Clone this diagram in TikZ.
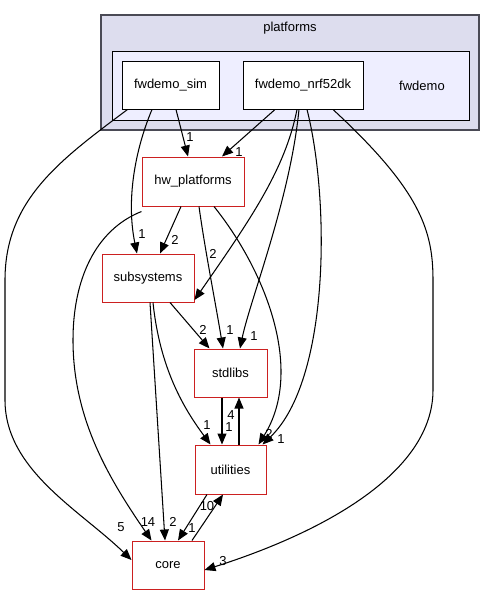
\documentclass[tikz,border=0pt]{standalone}
\usepackage{fontspec}
\setmainfont{Liberation Sans}
\usetikzlibrary{arrows.meta}
\definecolor{outerfill}{HTML}{DDDDEE}
\definecolor{innerfill}{HTML}{EEEEFF}
\definecolor{outerline}{HTML}{4A4A55}
\definecolor{nodered}{HTML}{CC2020}
\tikzset{
  dirbox/.style={draw=nodered, fill=white, line width=1pt, minimum height=48pt, inner sep=0pt, font=\fontsize{13pt}{15pt}\selectfont},
  leafbox/.style={draw=black, fill=white, line width=1pt, minimum height=48pt, inner sep=0pt, font=\fontsize{13pt}{15pt}\selectfont},
  dep/.style={draw=black, line width=1.05pt, -{Triangle[length=11pt,width=9pt]}},
  lbl/.style={inner sep=0pt, font=\fontsize{13pt}{15pt}\selectfont},
}
\begin{document}
\begin{tikzpicture}[x=1pt,y=-1pt]
\useasboundingbox (0,0) rectangle (496,595);
% clusters
\node[draw=outerline, fill=outerfill, line width=1.3pt, minimum width=378pt, minimum height=115pt, inner sep=0pt] (platforms) at (290,72.5) {};
\node[lbl] (platformslbl) at (290,28) {platforms};
\node[draw=black, fill=innerfill, line width=1pt, minimum width=357pt, minimum height=69pt, inner sep=0pt] (fwdemo) at (290.5,85.5) {};
\node[lbl] (fwdemolbl) at (422,86) {fwdemo};
% nodes
\node[leafbox, minimum width=97pt] (sim) at (170.5,85) {fwdemo\_sim};
\node[leafbox, minimum width=120pt] (nrf) at (303,85) {fwdemo\_nrf52dk};
\node[dirbox, minimum width=102pt, minimum height=49pt] (hw) at (193,181.5) {hw\_platforms};
\node[dirbox, minimum width=92pt] (sub) at (148,278) {subsystems};
\node[dirbox, minimum width=73pt] (std) at (230.5,373) {stdlibs};
\node[dirbox, minimum width=71pt, minimum height=49pt] (util) at (230.5,469.5) {utilities};
\node[dirbox, minimum width=72pt] (core) at (168,565) {core};
% labels (drawn before edges)
\node[lbl] (l1) at (121,527) {5};
\node[lbl] (l2) at (148,522) {14};
\node[lbl] (l3) at (173,522) {2};
\node[lbl] (l4) at (192,528) {1};
\node[lbl] (l5) at (207,506) {10};
\node[lbl] (l6) at (223,561) {3};
\node[lbl] (l7) at (207,425) {1};
\node[lbl] (l8) at (229,427) {1};
\node[lbl] (l9) at (231,415) {4};
\node[lbl] (l10) at (269,434) {2};
\node[lbl] (l11) at (281,439) {1};
\node[lbl] (l12) at (203,330) {2};
\node[lbl] (l13) at (230,330) {1};
\node[lbl] (l14) at (254,336) {1};
\node[lbl] (l15) at (175,240) {2};
\node[lbl] (l16) at (142,234) {1};
\node[lbl] (l17) at (213,254) {2};
\node[lbl] (l18) at (190,137) {1};
\node[lbl] (l19) at (239,152) {1};
% edges
\draw[dep] ([xshift=6pt]sim.south west) .. controls (60,160) and (5,200) .. (5,280) -- (5,400) .. controls (5,470) and (80,510) .. ([yshift=5pt]core.west);
\draw[dep] ([xshift=5.5pt]sim.south) -- ([xshift=-5pt]hw.north);
\draw[dep] ([xshift=-18.5pt]sim.south) .. controls (135,150) and (126,200) .. ([xshift=-11pt]sub.north);
\draw[dep] ([xshift=-28pt]nrf.south) -- ([xshift=29pt]hw.north);
\draw[dep] ([xshift=-6pt]nrf.south) .. controls (285,170) and (250,220) .. ([yshift=-22pt]sub.east);
\draw[dep] ([xshift=-4pt]nrf.south) .. controls (290,200) and (250,300) .. ([xshift=9.5pt]std.north);
\draw[dep] ([xshift=4pt]nrf.south) .. controls (330,200) and (330,380) .. ([xshift=-4pt]util.north east);
\draw[dep] ([xshift=30pt]nrf.south) .. controls (420,190) and (433,230) .. (433,280) -- (433,390) .. controls (433,470) and (330,530) .. ([yshift=-5pt]core.east);
\draw[dep] ([xshift=-12pt]hw.south) -- ([xshift=12pt]sub.north);
\draw[dep] ([xshift=6pt]hw.south) .. controls (205,250) and (215,300) .. ([xshift=-7.5pt]std.north);
\draw[dep] ([xshift=21pt]hw.south) .. controls (265,270) and (305,370) .. ([xshift=-8pt]util.north east);
\draw[dep] ([yshift=-5pt]hw.south west) .. controls (95,230) and (73,280) .. (73,340) .. controls (73,420) and (110,480) .. ([xshift=20pt]core.north west);
\draw[dep] ([xshift=22pt]sub.south) -- ([xshift=16pt]std.north west);
\draw[dep] ([xshift=5pt]sub.south) .. controls (160,370) and (185,410) .. ([xshift=16pt]util.north west);
\draw[dep] ([xshift=2pt]sub.south) -- ([xshift=-3pt]core.north);
\draw[dep] ([xshift=-8.5pt]std.south) -- ([xshift=-8.5pt]util.north);
\draw[dep] ([xshift=8.5pt]util.north) -- ([xshift=8.5pt]std.south);
\draw[dep] ([xshift=-23.5pt]util.south) -- ([xshift=10pt]core.north);
\draw[dep] ([xshift=24pt]core.north) -- ([xshift=-7.5pt]util.south);
\end{tikzpicture}
\end{document}
